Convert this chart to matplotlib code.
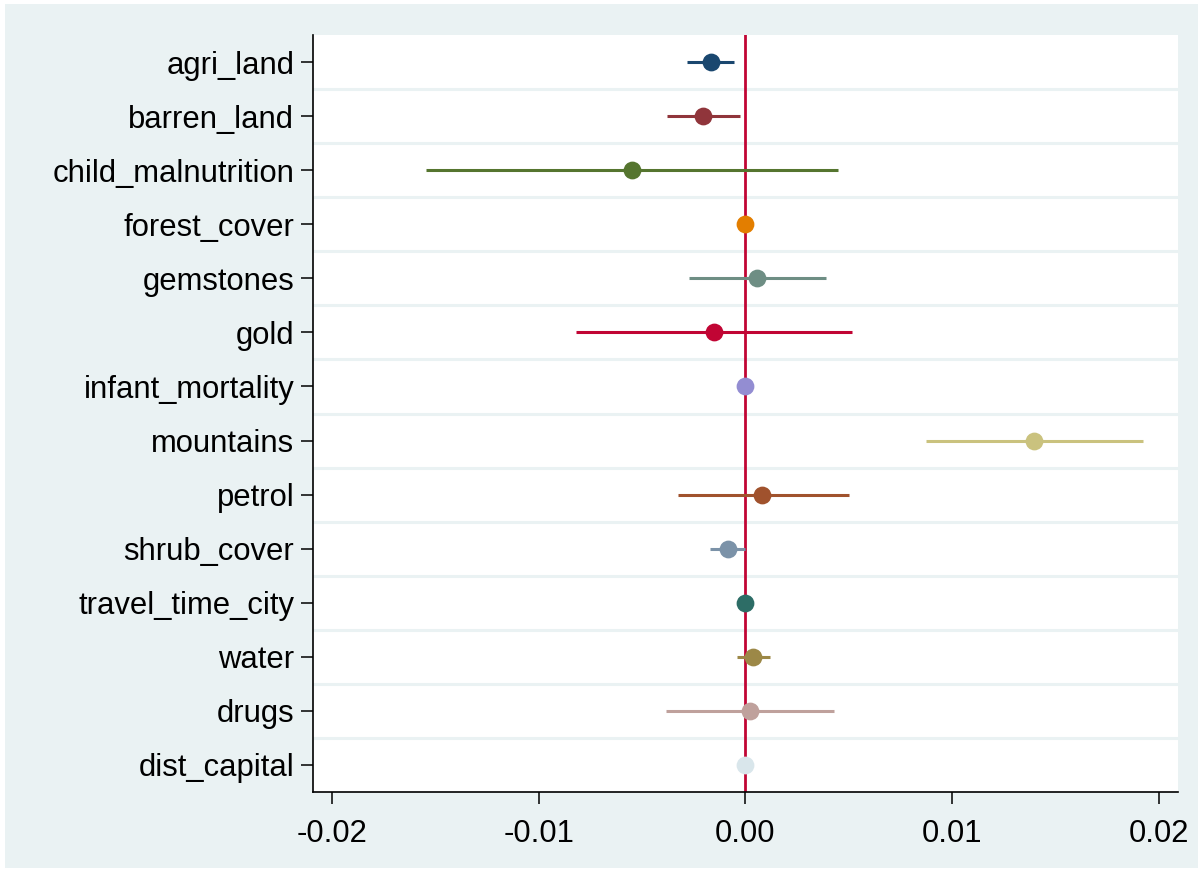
import matplotlib
matplotlib.use("Agg")
import matplotlib.pyplot as plt
from matplotlib.patches import Rectangle

plt.rcParams['font.family'] = ['Liberation Sans', 'DejaVu Sans']

variables = ["agri_land", "barren_land", "child_malnutrition", "forest_cover",
             "gemstones", "gold", "infant_mortality", "mountains", "petrol",
             "shrub_cover", "travel_time_city", "water", "drugs", "dist_capital"]
coef = [-0.00167, -0.00206, -0.0055, 0.0000, 0.00056, -0.00153, 0.0000,
        0.01399, 0.0008, -0.00085, 0.0000, 0.00036, 0.00022, 0.0000]
ci_low = [-0.00284, -0.0038, -0.01544, 0.0000, -0.00272, -0.00817, 0.0000,
          0.00875, -0.00327, -0.00172, 0.0000, -0.0004, -0.00385, 0.0000]
ci_high = [-0.00056, -0.00027, 0.00448, 0.0000, 0.0039, 0.00516, 0.0000,
           0.01927, 0.0050, 0.0000, 0.0000, 0.0012, 0.0043, 0.0000]
colors = ["#1a476f", "#90353b", "#55752f", "#e37e00", "#6e8e84", "#c10534",
          "#938dd2", "#cac27e", "#a0522d", "#7b92a8", "#2d6d66", "#9c8847",
          "#bfa19c", "#d9e6eb"]
xticks = [-0.02, -0.01, 0.0, 0.01, 0.02]
xtick_labels = ["-0.02", "-0.01", "0.00", "0.01", "0.02"]

W, H = 1203, 874
fig = plt.figure(figsize=(W / 100, H / 100), dpi=100, facecolor="white")
bg = "#eaf2f3"
bg_ax = fig.add_axes([0, 0, 1, 1], zorder=-10)
bg_ax.set_xlim(0, W)
bg_ax.set_ylim(H, 0)
bg_ax.axis("off")
bg_ax.add_patch(Rectangle((5, 4), 1198 - 5, 868 - 4, facecolor=bg, edgecolor="none"))

ax = fig.add_axes([313 / W, (H - 792) / H, (1178 - 313) / W, (792 - 35) / H], zorder=1)
ax.set_facecolor("white")

n = len(variables)
ypos = list(range(1, n + 1))

for i in range(n - 1):
    ax.axhline(i + 1.5, color=bg, lw=2.2, zorder=1)

ax.axvline(0, color="#c10534", lw=2, zorder=2)

for y, c, lo, hi, col in zip(ypos, coef, ci_low, ci_high, colors):
    if hi > lo:
        ax.plot([lo, hi], [y, y], color=col, lw=2.2, zorder=3, solid_capstyle="butt")
    ax.plot([c], [y], "o", color=col, ms=12.8, mec="none", zorder=4)

ax.set_ylim(n + 0.5, 0.5)
ax.set_xlim(-0.02092, 0.02094)
ax.set_yticks(ypos)
ax.set_yticklabels(variables, fontsize=22.3)
ax.set_xticks(xticks)
ax.set_xticklabels(xtick_labels, fontsize=22.3)

for s in ["top", "right"]:
    ax.spines[s].set_visible(False)
for s in ["left", "bottom"]:
    ax.spines[s].set_color("black")
    ax.spines[s].set_linewidth(1.2)

ax.tick_params(axis="y", length=8.5, width=1.1, pad=5)
ax.tick_params(axis="x", length=8.5, width=1.1, pad=11)

fig.savefig("out.png", dpi=100, facecolor="white")
